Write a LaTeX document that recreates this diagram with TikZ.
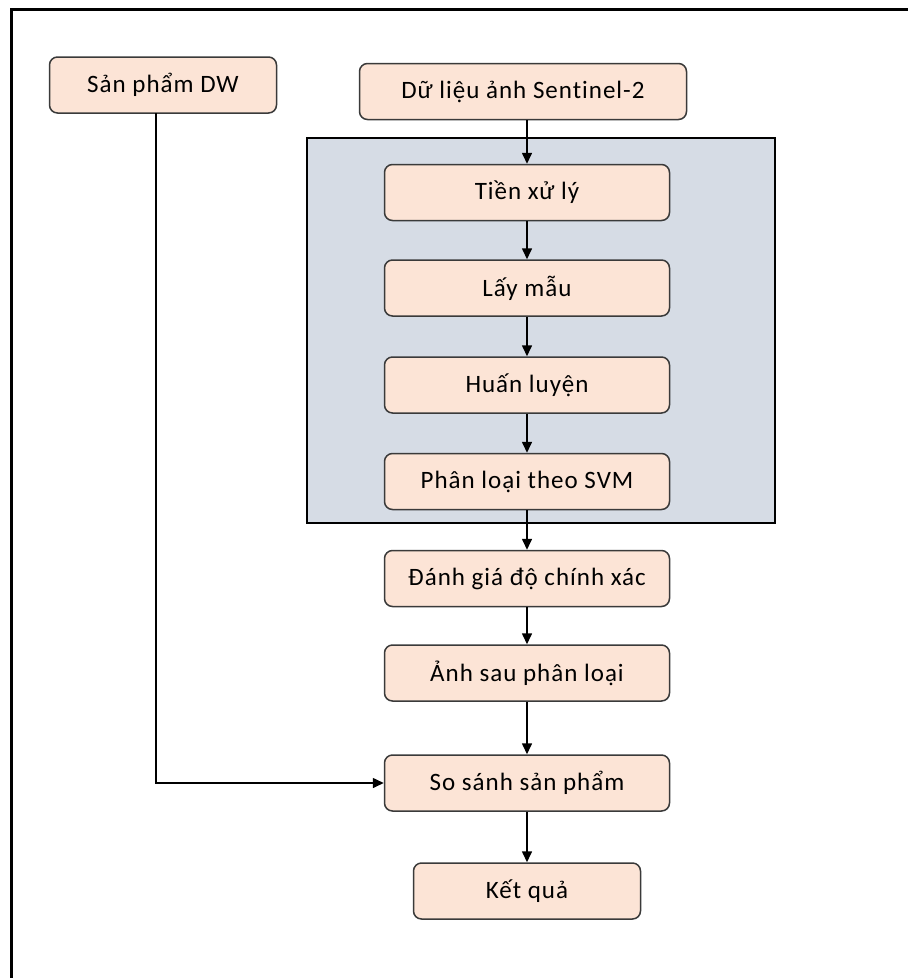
\documentclass[tikz,border=0pt]{standalone}
\usepackage{fontspec}
\setmainfont{Carlito}[LetterSpace=4, RawFeature={-liga;-calt;-clig}]
\usetikzlibrary{arrows.meta}
\definecolor{peach}{HTML}{FCE4D6}
\definecolor{panel}{HTML}{D6DCE5}
\definecolor{edge}{HTML}{3A3A3A}
\tikzset{
  stepbox/.style={draw=edge, fill=peach, line width=1.5pt, rounded corners=8pt,
    minimum height=56pt, inner sep=0pt, font=\fontsize{25}{28}\selectfont},
  flow/.style={draw=black, line width=1.6pt, -{Triangle[length=11pt,width=10pt]}}
}
\begin{document}
\begin{tikzpicture}[x=1pt,y=-1pt]
\useasboundingbox (0,0) rectangle (908,978);
\fill[white] (0,0) rectangle (908,978);
\draw[line width=3pt] (11,978) -- (11,9.5) -- (908,9.5);
\draw[fill=panel, draw=black, line width=1.3pt] (307,138) rectangle (775,523);
\node[stepbox, minimum width=227pt] (dw) at (163,85) {Sản phẩm DW};
\node[stepbox, minimum width=327pt] (src) at (523,91.5) {Dữ liệu ảnh Sen{}tinel-2};
\node[stepbox, minimum width=285pt] (pre) at (527,192.5) {Tiền xử lý};
\node[stepbox, minimum width=285pt] (samp) at (527,288) {Lấy mẫu};
\node[stepbox, minimum width=285pt] (train) at (527,385) {Huấn luyện};
\node[stepbox, minimum width=285pt] (svm) at (527,481.5) {Phân loại theo SVM};
\node[stepbox, minimum width=285pt] (acc) at (527,578.5) {Đánh giá độ chính xác};
\node[stepbox, minimum width=285pt] (post) at (527,673) {Ảnh sau phân loại};
\node[stepbox, minimum width=285pt] (cmp) at (527,783) {So sánh sản phẩm};
\node[stepbox, minimum width=227pt] (res) at (527,891) {Kết quả};
\coordinate (dwdown) at (156,113);
\draw[flow] (src.south -| pre.north) -- (pre.north);
\draw[flow] (pre) -- (samp);
\draw[flow] (samp) -- (train);
\draw[flow] (train) -- (svm);
\draw[flow] (svm) -- (acc);
\draw[flow] (acc) -- (post);
\draw[flow] (post) -- (cmp);
\draw[flow] (cmp) -- (res);
\draw[flow] (dwdown) |- (cmp.west);
\end{tikzpicture}
\end{document}
